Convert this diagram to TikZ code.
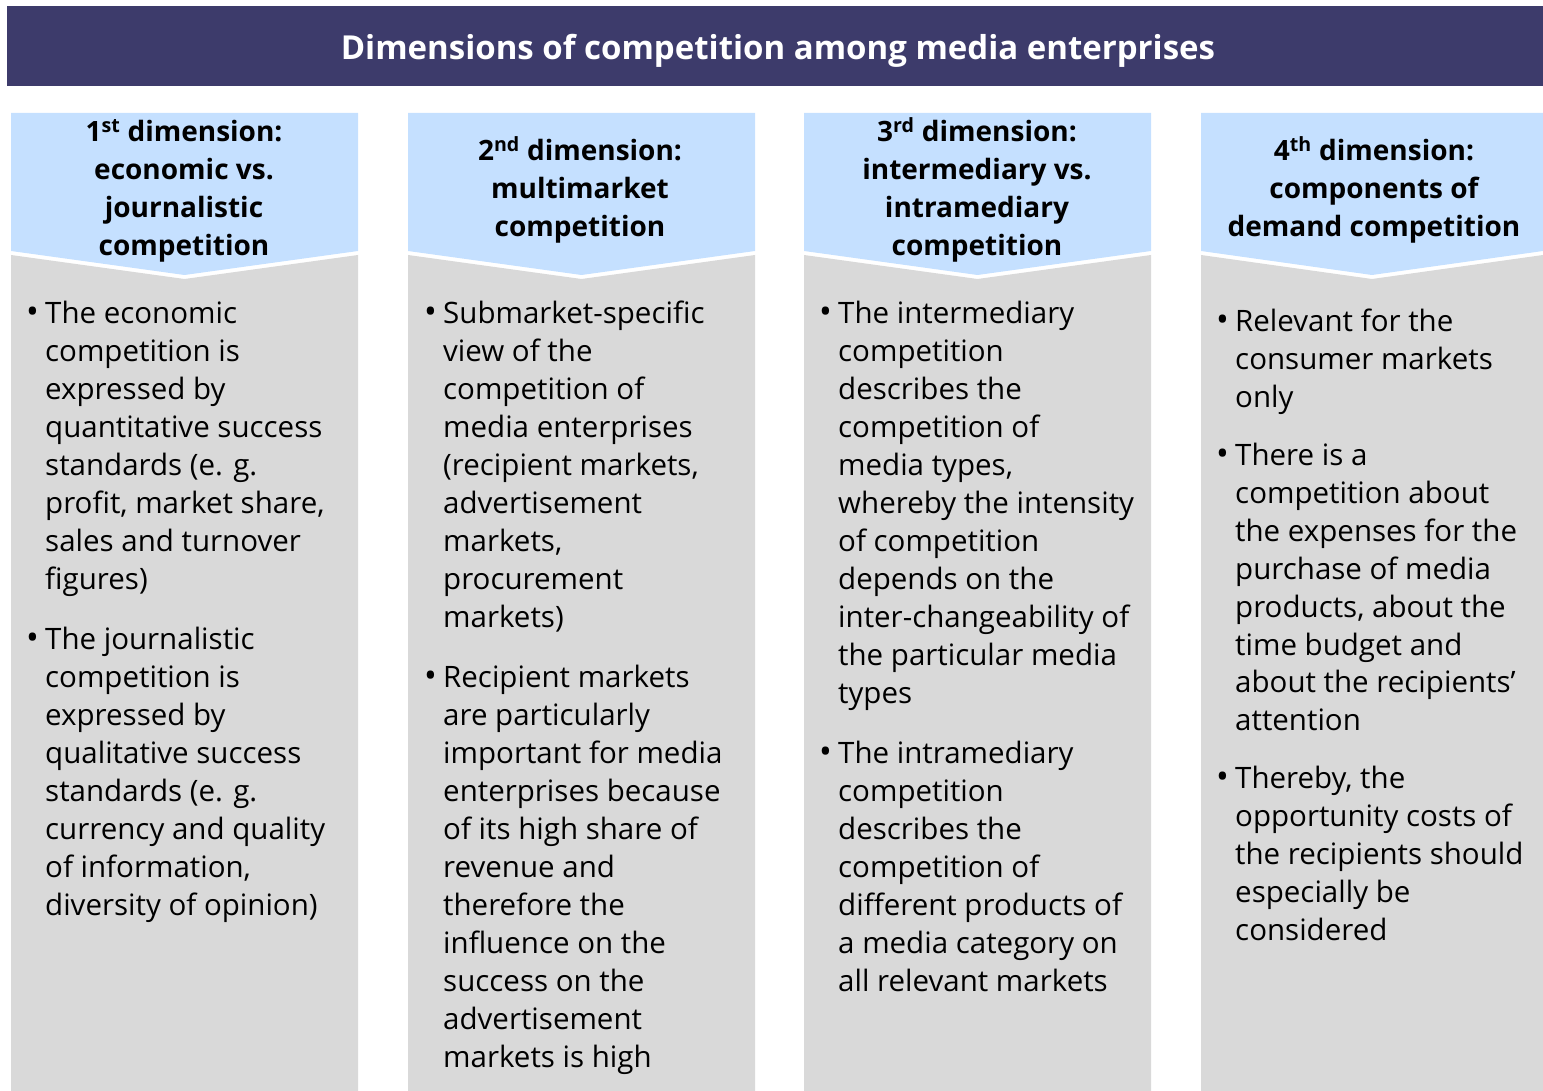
\documentclass[tikz,border=0pt]{standalone}
\usepackage{fontspec}
\setmainfont{Open Sans}
\usepackage{array}
\definecolor{navy}{HTML}{3D3B6B}
\definecolor{lightblue}{HTML}{C5E0FF}
\definecolor{panelgray}{HTML}{D9D9D9}
\newcommand{\bl}{\hspace*{0pt}{\fontsize{34}{38}\selectfont\textbullet}}
\newenvironment{btab}{\begin{tabular}[t]{@{}p{19pt}@{}l@{}}}{\end{tabular}}
\newenvironment{htab}{\begin{tabular}[t]{@{}c@{}}}{\end{tabular}}
\begin{document}
\begin{tikzpicture}[x=1pt,y=-1pt,
  banner/.style={fill=navy,draw=none},
  colhead/.style={fill=lightblue,draw=none},
  colbody/.style={fill=panelgray,draw=none},
  titletext/.style={anchor=base,inner sep=0pt,text=white,font=\fontsize{33}{40}\selectfont\bfseries},
  headtext/.style={anchor=base,inner sep=0pt,font=\fontsize{28}{38}\selectfont\bfseries},
  bodytext/.style={anchor=base west,inner sep=0pt,font=\fontsize{29.5}{38}\selectfont}]
\useasboundingbox (0,0) rectangle (1543,1091);
% title banner
\fill[banner] (7,6) rectangle (1543,86);
\node[titletext] (title) at (778,60) {Dimensions of competition among media enterprises};
% columns
\foreach \xa/\xb in {11/358,408/755,804/1151,1201/1543}{
  \pgfmathsetmacro{\xc}{(\xa+\xb)/2}
  \fill[colbody] (\xa,255) -- (\xc,279) -- (\xb,255) -- (\xb,1091) -- (\xa,1091) -- cycle;
  \fill[colhead] (\xa,113) -- (\xb,113) -- (\xb,251) -- (\xc,275) -- (\xa,251) -- cycle;
}
% headers
\node[headtext] (h1) at (184,142) {\begin{htab}1\textsuperscript{st} dimension:\\economic vs.\\journalistic\\competition\end{htab}};
\node[headtext] (h2) at (580,161) {\begin{htab}2\textsuperscript{nd} dimension:\\multimarket\\competition\end{htab}};
\node[headtext] (h3) at (977,142) {\begin{htab}3\textsuperscript{rd} dimension:\\intermediary vs.\\intramediary\\competition\end{htab}};
\node[headtext] (h4) at (1374,161) {\begin{htab}4\textsuperscript{th} dimension:\\components of\\demand competition\end{htab}};
% column 1
\node[bodytext] (c1a) at (26,324) {\begin{btab}\bl & The economic\\ & competition is\\ & expressed by\\ & quantitative success\\ & standards (e. g.\\ & profit, market share,\\ & sales and turnover\\ & figures)\end{btab}};
\node[bodytext] (c1b) at (26,649) {\begin{btab}\bl & The journalistic\\ & competition is\\ & expressed by\\ & qualitative success\\ & standards (e. g.\\ & currency and quality\\ & of information,\\ & diversity of opinion)\end{btab}};
% column 2
\node[bodytext] (c2a) at (424,324) {\begin{btab}\bl & Submarket-specific\\ & view of the\\ & competition of\\ & media enterprises\\ & (recipient markets,\\ & advertisement\\ & markets,\\ & procurement\\ & markets)\end{btab}};
\node[bodytext] (c2b) at (424,687) {\begin{btab}\bl & Recipient markets\\ & are particularly\\ & important for media\\ & enterprises because\\ & of its high share of\\ & revenue and\\ & therefore the\\ & influence on the\\ & success on the\\ & advertisement\\ & markets is high\end{btab}};
% column 3
\node[bodytext] (c3a) at (819,324) {\begin{btab}\bl & The intermediary\\ & competition\\ & describes the\\ & competition of\\ & media types,\\ & whereby the intensity\\ & of competition\\ & depends on the\\ & inter-changeability of\\ & the particular media\\ & types\end{btab}};
\node[bodytext] (c3b) at (819,763) {\begin{btab}\bl & The intramediary\\ & competition\\ & describes the\\ & competition of\\ & different products of\\ & a media category on\\ & all relevant markets\end{btab}};
% column 4
\node[bodytext] (c4a) at (1216,332) {\begin{btab}\bl & Relevant for the\\ & consumer markets\\ & only\end{btab}};
\node[bodytext] (c4b) at (1216,465) {\begin{btab}\bl & There is a\\ & competition about\\ & the expenses for the\\ & purchase of media\\ & products, about the\\ & time budget and\\ & about the recipients’\\ & attention\end{btab}};
\node[bodytext] (c4c) at (1216,788) {\begin{btab}\bl & Thereby, the\\ & opportunity costs of\\ & the recipients should\\ & especially be\\ & considered\end{btab}};
\end{tikzpicture}
\end{document}
